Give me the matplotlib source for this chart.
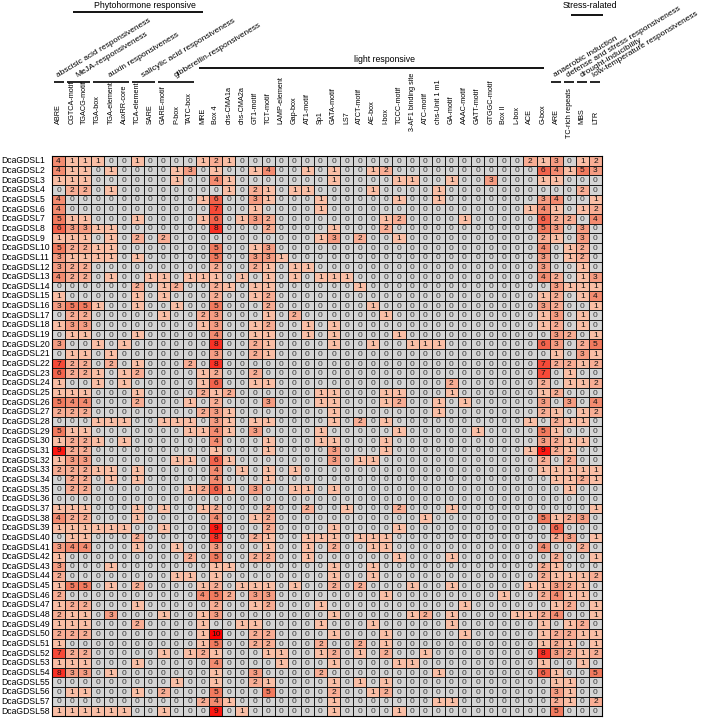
import numpy as np
import matplotlib.pyplot as plt
import matplotlib.transforms as mtransforms
from matplotlib.colors import LinearSegmentedColormap, Normalize

plt.rcParams['font.family'] = ['Liberation Sans', 'DejaVu Sans']

genes = ['DcaGDSL%d' % i for i in range(1, 59)]

phyto_motifs = ['ABRE', 'CGTCA-motif', 'TGACG-motif', 'TGA-box', 'TGA-element', 'AuxRR-core',
                'TCA-element', 'SARE', 'GARE-motif', 'P-box', 'TATC-box']
light_motifs = ['MRE', 'Box 4', 'chs-CMA1a', 'chs-CMA2a', 'GT1-motif', 'TCT-motif', 'LAMP-element',
                'Gap-box', 'AT1-motif', 'Sp1', 'GATA-motif', 'LS7', 'ATCT-motif', 'AE-box', 'I-box',
                'TCCC-motif', '3-AF1 binding site', 'ATC-motif', 'chs-Unit 1 m1', 'GA-motif',
                'AAAC-motif', 'GATT-motif', 'GTGGC-motif', 'Box II', 'L-box', 'ACE', 'G-box']
stress_motifs = ['ARE', 'TC-rich repeats', 'MBS', 'LTR']

# (label, first column, last column) of the slanted sub-groups
phyto_groups = [('abscisic acid responsiveness', 0, 0), ('MeJA-responsiveness', 1, 2),
                ('auxin responsiveness', 3, 5), ('salicylic acid responsiveness', 6, 7),
                ('gibberellin-responsiveness', 8, 10)]
stress_groups = [('anaerobic induction', 38, 38), ('defense and stress responsiveness', 39, 39),
                 ('drought-inducibility', 40, 40), ('low-temperature responsiveness', 41, 41)]

# counts per gene (rows) - phytohormone responsive elements
phyto = [
    [4,1,1,1,0,0,1,0,0,0,0], [4,1,1,0,1,0,0,0,0,1,3], [1,1,1,0,0,0,0,0,0,1,0], [0,2,2,0,1,0,0,0,0,0,0],
    [4,0,0,0,0,0,0,0,0,0,0], [4,0,0,0,0,0,0,0,0,0,0], [5,1,1,0,0,0,1,0,0,0,0], [6,3,3,1,1,0,0,0,0,0,0],
    [1,1,1,0,1,0,2,0,2,0,0], [5,2,2,1,1,0,0,0,0,0,0], [3,1,1,1,1,0,1,0,0,0,0], [3,2,2,0,0,0,0,0,0,0,0],
    [4,2,2,0,1,0,0,1,1,0,1], [0,0,0,0,0,0,2,0,1,2,0], [1,0,0,0,0,0,1,0,1,0,0], [3,5,5,1,0,0,1,0,0,1,0],
    [0,2,2,0,0,0,0,0,1,0,0], [1,3,3,0,0,0,0,0,0,0,0], [0,1,1,0,0,0,1,0,0,0,0], [3,0,0,1,0,1,0,0,0,0,0],
    [0,1,1,0,1,0,0,0,0,0,0], [7,2,2,0,2,0,1,0,0,0,2], [6,2,2,1,0,1,2,0,0,0,0], [1,0,0,1,0,1,0,0,0,0,0],
    [1,1,1,0,0,0,1,0,0,0,0], [5,4,4,0,0,0,2,0,0,0,1], [2,2,2,0,0,0,0,0,0,0,0], [0,0,0,1,1,1,0,0,1,1,1],
    [5,1,1,0,0,0,0,0,0,0,1], [1,2,2,1,0,1,0,0,0,0,0], [9,2,2,0,0,0,0,0,0,0,0], [1,3,3,0,0,0,0,0,0,1,1],
    [2,2,2,1,1,0,1,0,0,0,0], [0,2,2,0,1,0,1,0,0,0,0], [0,2,2,0,0,0,0,0,0,0,1], [0,0,0,0,0,0,0,0,0,0,0],
    [1,1,1,0,0,0,1,0,1,0,0], [4,2,2,0,0,0,1,0,0,0,0], [1,1,1,1,1,1,0,0,1,0,0], [0,1,1,0,0,0,2,0,0,0,0],
    [3,4,4,0,0,0,1,0,0,1,0], [1,0,0,0,0,0,0,0,0,0,2], [3,0,0,0,1,0,0,0,0,0,0], [2,0,0,0,0,0,0,0,0,1,1],
    [1,5,5,0,1,0,2,0,0,0,0], [2,0,0,0,0,0,0,0,0,0,0], [1,2,2,0,0,0,1,0,0,0,0], [2,1,1,0,3,0,0,0,1,0,0],
    [1,1,1,0,0,0,2,0,0,0,0], [2,2,2,0,0,0,0,0,0,0,0], [1,0,0,0,0,0,0,0,0,0,0], [7,2,2,0,0,0,0,0,1,0,1],
    [1,1,1,0,0,0,1,0,0,0,0], [8,3,3,0,1,0,0,0,0,0,0], [0,0,0,0,0,0,0,0,0,1,0], [0,1,1,0,0,0,1,0,2,0,0],
    [0,0,0,0,0,0,0,0,0,0,0], [1,1,1,1,1,1,0,0,1,0,0],
]

# light responsive elements
light = [
    [1,2,1,0,0,0,0,0,0,0,0,0,0,0,0,0,0,0,0,0,0,0,0,0,0,2,1],
    [0,1,0,0,1,4,0,0,1,0,1,0,0,1,2,0,0,0,0,0,0,0,0,0,0,0,6],
    [0,4,1,0,0,0,0,0,0,0,1,0,0,0,0,1,1,0,0,1,0,0,3,0,0,0,1],
    [0,0,1,0,2,1,0,1,1,0,0,0,0,1,0,0,0,0,1,0,0,0,0,0,0,0,0],
    [1,6,0,0,3,1,0,0,0,1,0,0,0,0,0,1,0,0,1,0,0,0,0,0,0,0,3],
    [0,7,0,0,1,0,0,0,0,1,0,0,0,0,0,0,0,0,0,0,0,0,0,0,0,1,4],
    [1,6,0,1,3,2,0,0,0,0,0,0,0,0,1,2,0,0,0,0,1,0,0,0,0,0,6],
    [0,8,0,0,0,2,0,0,0,0,1,0,0,0,2,0,0,0,0,0,0,0,0,0,0,0,5],
    [0,0,0,0,0,0,0,0,0,1,3,0,2,0,0,1,0,0,0,0,0,0,0,0,0,0,2],
    [0,5,0,0,1,3,0,0,0,0,0,0,0,0,0,0,0,0,0,0,0,0,0,0,0,0,4],
    [0,5,0,0,3,3,1,0,0,0,0,0,0,0,0,0,0,0,0,0,0,0,0,0,0,0,3],
    [0,2,0,0,2,1,0,1,1,0,0,0,0,0,0,0,0,0,0,0,0,0,0,0,0,0,3],
    [1,1,0,1,0,1,0,1,0,1,1,1,0,0,0,0,0,0,0,0,0,0,0,0,0,0,4],
    [0,2,1,0,1,1,0,0,0,0,0,0,1,0,0,0,0,0,0,0,0,0,0,0,0,0,0],
    [0,2,0,0,1,2,0,0,0,0,0,0,0,0,0,0,0,0,0,0,0,0,0,0,0,0,1],
    [0,5,0,0,0,2,0,0,0,0,0,0,0,1,0,0,0,0,0,0,0,0,0,0,0,0,3],
    [2,3,0,0,0,1,0,2,0,0,0,0,0,0,1,0,0,0,0,0,0,0,0,0,0,0,1],
    [1,3,0,0,1,2,0,0,1,0,1,0,0,0,0,0,0,0,0,0,0,0,0,0,0,0,1],
    [0,4,0,0,1,1,0,0,1,0,1,0,0,0,0,1,0,0,0,0,0,0,0,0,0,0,0],
    [0,8,0,0,2,1,0,0,0,0,1,0,0,1,0,0,1,1,1,0,0,0,0,0,0,0,6],
    [0,3,0,0,2,1,0,0,0,0,0,0,0,0,0,0,0,0,0,0,0,0,0,0,0,0,0],
    [0,8,0,0,0,0,0,0,0,0,0,0,0,0,0,0,0,0,0,0,0,0,0,0,0,0,7],
    [1,2,0,0,2,0,0,0,0,0,0,0,0,0,0,0,0,0,0,0,0,0,0,0,0,0,7],
    [1,6,0,0,1,1,0,0,0,0,0,0,0,0,0,0,0,0,0,2,0,0,0,0,0,0,2],
    [2,1,2,0,0,0,0,0,0,1,1,0,0,0,1,1,0,0,0,1,0,0,0,0,0,0,1],
    [0,2,0,0,0,3,0,0,0,1,1,0,0,0,1,2,0,0,1,0,1,0,0,0,0,0,3],
    [2,3,1,0,0,0,0,0,0,0,1,0,0,0,0,0,0,0,1,0,0,0,0,0,0,0,2],
    [0,3,1,0,1,1,0,0,0,0,1,0,2,0,1,0,0,0,0,0,0,0,0,0,0,1,0],
    [1,4,1,0,3,0,0,0,0,1,0,0,0,0,0,1,0,0,0,0,0,1,0,0,0,0,5],
    [0,4,0,0,0,1,0,0,0,1,1,0,0,0,1,0,0,0,0,0,0,0,0,0,0,0,3],
    [0,1,0,0,0,1,0,0,0,0,3,0,0,0,1,0,0,0,0,0,0,0,0,0,0,1,9],
    [0,6,1,0,0,0,0,0,0,0,3,0,1,1,0,0,0,0,0,0,0,0,0,0,0,0,2],
    [0,4,0,1,0,1,0,1,0,0,0,0,0,0,0,0,0,0,0,0,0,0,0,0,0,0,1],
    [0,4,0,0,0,1,0,0,0,0,0,0,0,0,0,0,0,0,0,0,0,0,0,0,0,0,0],
    [2,6,1,0,3,0,0,1,1,0,1,0,0,0,0,0,0,0,0,0,0,0,0,0,0,0,0],
    [0,0,0,0,0,0,0,0,0,0,0,0,0,0,0,0,0,0,0,0,0,0,0,0,0,0,0],
    [1,2,0,0,0,2,0,0,2,0,0,1,0,0,0,2,0,0,0,1,0,0,0,0,0,0,0],
    [0,4,0,0,1,2,0,0,0,0,0,0,0,0,0,0,0,1,0,0,0,0,0,0,0,0,5],
    [0,9,0,0,0,2,0,0,0,0,1,0,0,0,0,1,0,0,0,0,0,0,0,0,0,0,0],
    [0,8,0,0,2,1,0,0,1,1,1,0,1,1,1,0,0,0,0,0,0,0,0,0,0,0,0],
    [0,3,0,0,0,1,0,0,1,0,2,0,0,1,1,0,0,0,0,0,0,0,0,0,0,0,4],
    [0,5,0,0,2,2,0,0,1,0,0,0,0,0,0,1,0,0,0,1,0,0,0,0,0,0,0],
    [0,1,1,0,0,0,0,0,0,0,1,0,0,1,0,0,0,0,0,0,0,0,0,0,0,0,2],
    [0,1,0,0,0,0,0,0,0,0,1,0,0,1,0,0,0,0,0,0,0,0,0,0,0,0,2],
    [1,2,0,1,1,1,0,1,0,0,2,0,2,0,0,0,1,0,0,1,0,0,0,0,0,1,1],
    [4,5,2,0,3,3,0,0,0,0,0,0,0,0,1,0,0,0,0,0,0,0,0,1,0,0,2],
    [0,2,0,0,1,2,0,0,0,1,0,0,0,0,0,0,0,0,0,0,1,0,0,0,0,0,0],
    [1,3,0,0,0,0,0,0,0,0,1,0,0,0,0,0,1,2,0,1,0,0,0,0,1,1,2],
    [1,0,0,1,1,0,0,0,0,1,0,0,0,1,0,0,0,0,0,1,0,0,0,0,0,0,1],
    [1,10,0,0,2,2,0,0,0,0,1,0,0,0,1,0,0,0,0,0,1,0,0,0,0,0,1],
    [1,5,0,0,2,2,0,0,0,2,0,0,2,0,1,0,0,0,0,0,0,0,0,0,0,0,1],
    [2,1,0,0,0,1,1,0,0,1,2,0,1,0,2,0,0,1,0,0,0,0,0,0,0,0,8],
    [0,4,0,0,0,0,1,0,0,0,1,0,0,0,0,1,1,0,0,0,0,0,0,0,0,0,1],
    [0,1,0,0,3,0,0,0,0,2,0,0,0,0,0,0,0,0,1,0,0,0,0,0,0,0,6],
    [0,1,0,0,2,1,0,0,0,0,1,0,1,0,1,0,0,0,0,0,0,0,0,0,0,0,0],
    [0,5,0,0,0,5,0,0,0,0,2,0,0,1,2,0,0,0,0,0,0,0,0,0,0,0,0],
    [2,4,1,0,0,0,0,0,0,0,1,0,0,0,0,0,0,0,1,1,0,0,0,0,0,0,0],
    [0,9,0,1,0,0,0,0,0,0,1,0,0,0,0,1,0,0,0,0,0,0,0,0,0,0,0],
]

# stress related elements
stress = [
    [3,0,1,2], [4,1,5,3], [1,0,0,0], [0,0,2,0], [4,0,0,1], [1,0,1,2], [2,2,0,4], [3,0,3,0],
    [1,0,3,0], [0,1,2,0], [0,1,2,0], [0,0,1,0], [2,0,1,3], [3,1,1,1], [2,0,1,4], [2,0,0,1],
    [3,0,1,0], [2,0,1,0], [3,2,0,1], [3,0,2,5], [1,0,3,1], [2,2,1,2], [0,1,0,0], [0,1,1,2],
    [2,0,0,0], [0,3,0,4], [1,0,1,2], [2,1,1,0], [1,0,0,0], [2,1,1,0], [2,1,0,0], [0,2,0,0],
    [1,1,1,1], [1,1,2,1], [0,1,0,0], [0,0,0,0], [0,0,0,1], [1,2,3,0], [6,0,0,0], [2,3,0,1],
    [0,0,2,0], [2,0,0,1], [1,0,0,0], [1,1,1,2], [3,2,1,0], [4,1,1,0], [1,2,0,1], [4,0,0,1],
    [0,1,2,0], [2,2,1,1], [2,1,0,1], [3,2,1,2], [0,0,1,0], [1,0,0,5], [1,1,0,0], [3,1,0,0],
    [2,1,0,2], [5,0,0,0],
]

motifs = phyto_motifs + light_motifs + stress_motifs
counts = np.hstack([np.array(phyto), np.array(light), np.array(stress)])
n_rows, n_cols = counts.shape

W, H = 706, 718
fig = plt.figure(figsize=(W / 100, H / 100), dpi=100)

# overlay in pixel coordinates (y from the top) for the header
over = fig.add_axes([0, 0, 1, 1])
over.set_xlim(0, W)
over.set_ylim(H, 0)
over.axis('off')

ax = fig.add_axes([52 / W, 1 - 716 / H, 550 / W, 560 / H])

cmap = LinearSegmentedColormap.from_list('cre', ['#fbc6ae', '#f0765a', '#ff0000'])
cmap.set_under('#d4d4d4')
norm = Normalize(vmin=0.5, vmax=10)
ax.pcolormesh(np.arange(n_cols + 1) - 0.5, np.arange(n_rows + 1) - 0.5, counts,
              cmap=cmap, norm=norm, edgecolors='#1a1a1a', linewidth=0.6)
ax.set_xlim(-0.5, n_cols - 0.5)
ax.set_ylim(n_rows - 0.5, -0.5)
ax.set_xticks([])
ax.set_yticks([])
for s in ax.spines.values():
    s.set_linewidth(0.8)

for i in range(n_rows):
    for j in range(n_cols):
        v = counts[i, j]
        ax.text(j, i + 0.05, str(v), ha='center', va='center', fontsize=6,
                color='#3a3a3a' if v == 0 else '#111111')

# row labels (left aligned)
tr_rows = mtransforms.blended_transform_factory(over.transData, ax.transData)
for i, g in enumerate(genes):
    over.text(1, i, g, transform=tr_rows, ha='left', va='center', fontsize=6.2)

# header: x from columns, y in pixels
tr = mtransforms.blended_transform_factory(ax.transData, over.transData)
label_bottom = {'3-AF1 binding site': 131, 'TC-rich repeats': 138}
for j, m in enumerate(motifs):
    over.text(j, label_bottom.get(m, 124), m, transform=tr, rotation=90, ha='center',
              va='bottom', fontsize=5.2)

for label, a, b in phyto_groups + stress_groups:
    over.plot([a - 0.38, b + 0.38], [81.5, 81.5], transform=tr, color='black', lw=1.2,
              solid_capstyle='butt')
    over.text((a + b) / 2, 79, label, transform=tr, rotation=31, rotation_mode='anchor',
              ha='left', va='bottom', fontsize=6)

big_groups = [('Phytohormone responsive', 1.1, 11.05, 6.6, 12, 9.5),
              ('light responsive', 10.7, 37.1, 24.9, 68, 64),
              ('Stress-ralated', 39.1, 41.6, 40.6, 14.5, 10.5)]
for label, x0, x1, xt, yl, yt in big_groups:
    over.plot([x0, x1], [yl, yl], transform=tr, color='black', lw=1.3, solid_capstyle='butt')
    over.text(xt, yt, label, transform=tr, ha='center', va='bottom', fontsize=6.3)

fig.savefig('out.png', dpi=100)
